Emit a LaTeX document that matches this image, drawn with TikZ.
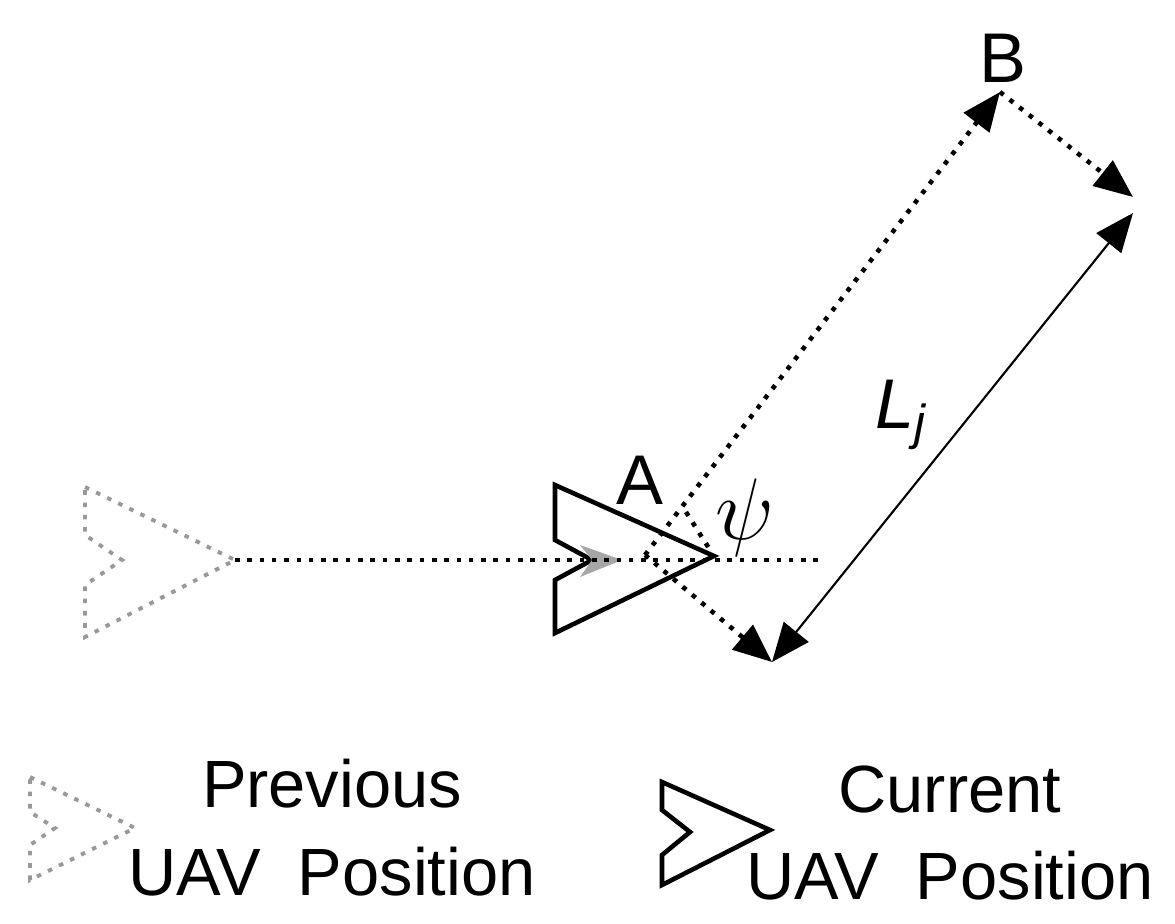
\documentclass[tikz,border=0pt]{standalone}
\usepackage{fontspec}
\setmainfont{Liberation Sans}
\usetikzlibrary{arrows.meta}
\begin{document}
\begin{tikzpicture}[x=0.01cm,y=-0.01cm,
  dots/.style={line width=1.3pt,dash pattern=on 1.3pt off 2.2pt},
  gdots/.style={dots,gray!80,line width=1.1pt},
  uav/.style={line width=1.3pt,line join=miter},
  tip/.style={-{Triangle[length=11pt,width=9pt]}},
  lbl/.style={font=\fontsize{20}{22}\selectfont,inner sep=0pt},
  leg/.style={font=\fontsize{19}{21}\selectfont,inner sep=0pt,align=center}]
\useasboundingbox (0,0) rectangle (1175,923);
% previous UAV
\draw[gdots] (85,487) -- (235,560) -- (85,637) -- (85,585) -- (122,560) -- (85,535) -- cycle;
% current UAV
\draw[uav] (555,485) -- (714,556) -- (555,633) -- (555,580) -- (592,560) -- (555,540) -- cycle;
\fill[gray!70] (580,545) -- (622,560) -- (580,577) -- (592,560) -- cycle;
\coordinate (A) at (645,555);
\coordinate (B) at (1000,92);
\coordinate (C) at (1133,197);
\coordinate (D) at (772,662);
\coordinate (T) at (1133,213);
\coordinate (E) at (820,560);
\coordinate (P) at (235,560);
\draw[dots] (P) -- (E);
\draw[dots,tip] (A) -- (B);
\draw[dots,tip] (B) -- (C);
\draw[dots,tip] (A) -- (D);
\draw[line width=0.6pt,{Triangle[length=11pt,width=9pt]}-{Triangle[length=11pt,width=9pt]}] (D) -- (T);
\draw[dots] (686,512) -- (712,553);
\node[lbl] (la) at (640,480) {A};
\node[lbl] (lb) at (1003,58) {B};
\node[lbl] (lpsi) at (745,518) {\fontsize{24}{26}\selectfont$\psi$};
\node[lbl] (lL) at (902,415) {\textit{L}\textsubscript{\textit{j}}};
% legend
\draw[gdots] (30,777) -- (135,828) -- (30,880) -- (30,845) -- (55,828) -- (30,812) -- cycle;
\node[leg] (tprev) at (332,828) {Previous\\[4pt]UAV~~Position};
\draw[uav] (662,782) -- (770,830) -- (662,885) -- (662,855) -- (690,832) -- (662,810) -- cycle;
\node[leg] (tcur) at (950,833) {Current\\[4pt]UAV~~Position};
\end{tikzpicture}
\end{document}
